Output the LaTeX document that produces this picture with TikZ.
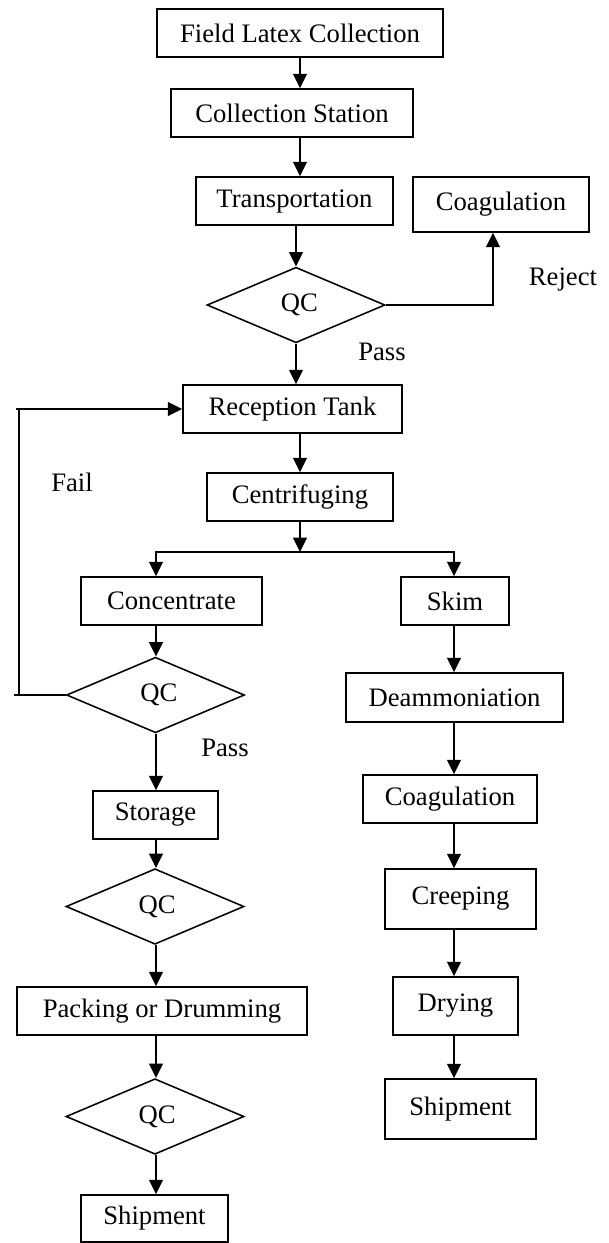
\documentclass[tikz,border=0pt]{standalone}
\usepackage{fontspec}
\setmainfont{Liberation Serif}
\usetikzlibrary{shapes.geometric}
\usetikzlibrary{arrows.meta}

\begin{document}
\begin{tikzpicture}[x=0.45pt, y=-0.45pt,
    box/.style={draw, line width=0.7pt, inner sep=0pt, minimum height=21.6pt, font=\fontsize{12}{14}\selectfont},
    check/.style={draw, diamond, line width=0.7pt, inner sep=0pt, minimum width=80.1pt, minimum height=34pt, font=\fontsize{12}{14}\selectfont},
    note/.style={font=\fontsize{12}{14}\selectfont},
    flow/.style={line width=1pt, arrows={-Triangle[width=6.2pt, length=6.5pt]}}]
    \useasboundingbox (0, 0) rectangle (608, 1243);
    \node[box, minimum width=128.7pt] (field) at (300, 33) {Field Latex Collection};
    \node[box, minimum width=108.9pt] (station) at (292, 113) {Collection Station};
    \node[box, minimum width=88.65pt] (transport) at (294.5, 201) {Transportation};
    \node[box, minimum width=79.2pt, minimum height=24.75pt] (coag1) at (501, 204.5) {Coagulation};
    \node[check] (qc1) at (296, 305) {\hspace*{3pt}QC};
    \node[box, minimum width=98.55pt] (reception) at (292.5, 409) {Reception Tank};
    \node[box, minimum width=83.7pt] (centri) at (300, 497) {Centrifuging};
    \node[box, minimum width=81.45pt] (concentrate) at (171.5, 601) {Concentrate};
    \node[box, minimum width=48.6pt] (skim) at (455, 601) {Skim};
    \node[check] (qc2) at (155.5, 695) {\hspace*{3pt}QC};
    \node[box, minimum width=97.65pt, minimum height=22pt] (deam) at (454.5, 697.5) {Deammoniation};
    \node[box, minimum width=56.25pt] (storage) at (155.5, 815) {Storage};
    \node[box, minimum width=78.3pt] (coag2) at (450, 799) {Coagulation};
    \node[check] (qc3) at (155, 906.5) {\hspace*{2pt}QC};
    \node[box, minimum width=67.95pt, minimum height=27pt] (creeping) at (460.5, 899) {Creeping};
    \node[box, minimum width=130.5pt] (packing) at (162, 1011) {Packing or Drumming};
    \node[box, minimum width=56.25pt, minimum height=26.1pt] (drying) at (455.5, 1006) {Drying};
    \node[check] (qc4) at (155, 1116.5) {\hspace*{2pt}QC};
    \node[box, minimum width=66.15pt, minimum height=21.15pt] (ship1) at (154.5, 1218.5) {Shipment};
    \node[box, minimum width=67.95pt, minimum height=27pt] (ship2) at (460.5, 1109) {Shipment};
    \node[note] (reject) at (563, 279) {Reject};
    \node[note] (pass1) at (382, 352) {Pass};
    \node[note] (fail) at (72, 482) {Fail};
    \node[note] (pass2) at (225, 748) {Pass};
    \coordinate (split) at (300, 552);
    \coordinate (lcol) at (156, 0);
    \coordinate (rcol) at (454, 0);
    \coordinate (rejcol) at (493, 0);
    \coordinate (failcol) at (19, 0);
    % main line
    \draw[flow] (field.south) -- (field.south |- station.north);
    \draw[flow] (field.south |- station.south) -- (field.south |- transport.north);
    \draw[flow] (transport.south -| qc1.north) -- (qc1.north);
    \draw[flow] (qc1.east) -| (rejcol |- coag1.south);
    \draw[flow] (qc1.south) -- (qc1.south |- reception.north);
    \draw[flow] (centri.north |- reception.south) -- (centri.north);
    \draw[flow] (centri.south) -- (split);
    \draw[flow] (split) -| (lcol |- concentrate.north);
    \draw[flow] (split) -| (rcol |- skim.north);
    % concentrate branch
    \draw[flow] (lcol |- concentrate.south) -- (lcol |- qc2.north);
    \draw[line width=1pt] (qc2.west) -- ++(-52, 0);
    \draw[flow] (failcol |- qc2.west) -- (failcol |- reception.west) ++(-3, 0) -- (reception.west);
    \draw[flow] (lcol |- qc2.south) -- (lcol |- storage.north);
    \draw[flow] (lcol |- storage.south) -- (lcol |- qc3.north);
    \draw[flow] (lcol |- qc3.south) -- (lcol |- packing.north);
    \draw[flow] (lcol |- packing.south) -- (lcol |- qc4.north);
    \draw[flow] (lcol |- qc4.south) -- (lcol |- ship1.north);
    % skim branch
    \draw[flow] (rcol |- skim.south) -- (rcol |- deam.north);
    \draw[flow] (rcol |- deam.south) -- (rcol |- coag2.north);
    \draw[flow] (rcol |- coag2.south) -- (rcol |- creeping.north);
    \draw[flow] (rcol |- creeping.south) -- (rcol |- drying.north);
    \draw[flow] (rcol |- drying.south) -- (rcol |- ship2.north);
\end{tikzpicture}
\end{document}
